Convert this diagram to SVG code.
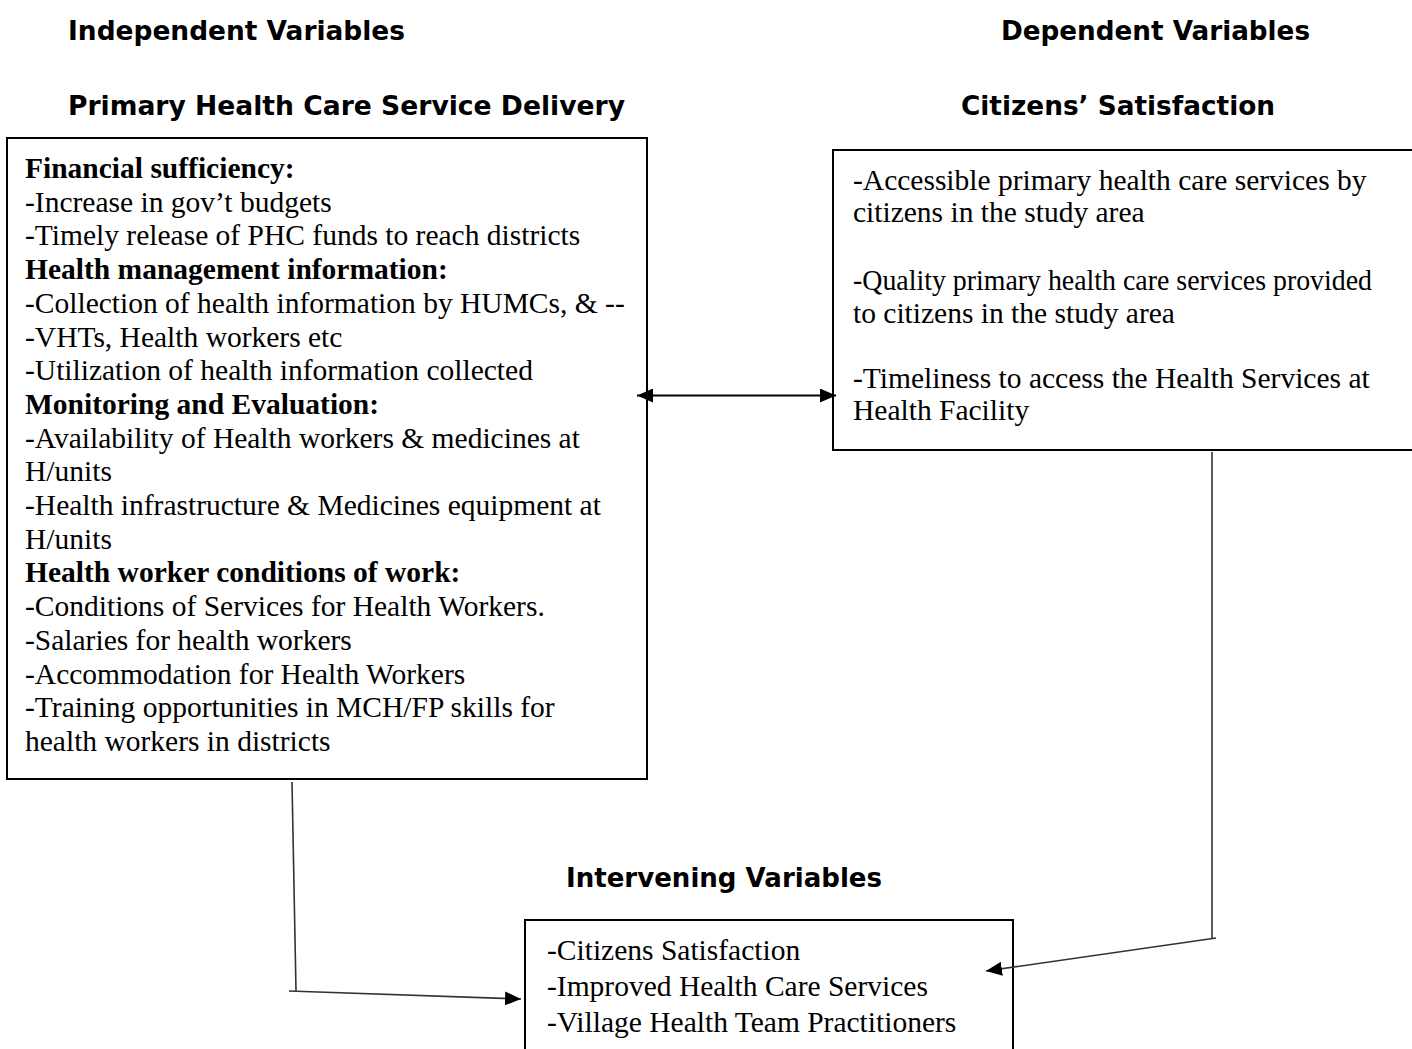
<svg xmlns="http://www.w3.org/2000/svg" width="1412" height="1049" viewBox="0 0 1412 1049">
<style>
.h{font-family:"DejaVu Sans","Liberation Sans",sans-serif;font-weight:bold;font-size:26px;fill:#000}
.t{font-family:"Liberation Serif","Times New Roman",serif;font-size:29.5px;fill:#000}
.b{font-weight:bold}
.box{fill:#fff;stroke:#000;stroke-width:2}
.con{fill:none;stroke:#333;stroke-width:1.6}
</style>
<defs>
<marker id="ah" viewBox="0 0 16 14" refX="16" refY="7" markerWidth="16" markerHeight="14" markerUnits="userSpaceOnUse" orient="auto-start-reverse">
<path d="M0,0 L16,7 L0,14 z" fill="#000"/>
</marker>
</defs>
<rect width="1412" height="1049" fill="#fff"/>
<g id="headings">
<text class="h" x="68" y="40" textLength="337" lengthAdjust="spacingAndGlyphs">Independent Variables</text>
<text class="h" x="68" y="115" textLength="557" lengthAdjust="spacingAndGlyphs">Primary Health Care Service Delivery</text>
<text class="h" x="1001" y="40" textLength="309" lengthAdjust="spacingAndGlyphs">Dependent Variables</text>
<text class="h" x="961" y="115" textLength="314" lengthAdjust="spacingAndGlyphs">Citizens’ Satisfaction</text>
<text class="h" x="566" y="887" textLength="316" lengthAdjust="spacingAndGlyphs">Intervening Variables</text>
</g>
<g id="independent">
<rect class="box" x="7" y="138" width="640" height="641"/>
<text class="t">
<tspan x="25" y="178" class="b">Financial sufficiency:</tspan>
<tspan x="25" y="211.7">-Increase in gov’t budgets</tspan>
<tspan x="25" y="245.4">-Timely release of PHC funds to reach districts</tspan>
<tspan x="25" y="279.1" class="b">Health management information:</tspan>
<tspan x="25" y="312.8">-Collection of health information by HUMCs, &amp; --</tspan>
<tspan x="25" y="346.5">-VHTs, Health workers etc</tspan>
<tspan x="25" y="380.2">-Utilization of health information collected</tspan>
<tspan x="25" y="413.9" class="b">Monitoring and Evaluation:</tspan>
<tspan x="25" y="447.6">-Availability of Health workers &amp; medicines at</tspan>
<tspan x="25" y="481.3">H/units</tspan>
<tspan x="25" y="515">-Health infrastructure &amp; Medicines equipment at</tspan>
<tspan x="25" y="548.7">H/units</tspan>
<tspan x="25" y="582.4" class="b">Health worker conditions of work:</tspan>
<tspan x="25" y="616.1">-Conditions of Services for Health Workers.</tspan>
<tspan x="25" y="649.8">-Salaries for health workers</tspan>
<tspan x="25" y="683.5">-Accommodation for Health Workers</tspan>
<tspan x="25" y="717.2">-Training opportunities in MCH/FP skills for</tspan>
<tspan x="25" y="750.9">health workers in districts</tspan>
</text>
</g>
<g id="dependent">
<rect class="box" x="833" y="150" width="590" height="300"/>
<text class="t">
<tspan x="853" y="190">-Accessible primary health care services by</tspan>
<tspan x="853" y="222">citizens in the study area</tspan>
<tspan x="853" y="290" textLength="519" lengthAdjust="spacingAndGlyphs">-Quality primary health care services provided</tspan>
<tspan x="853" y="323">to citizens in the study area</tspan>
<tspan x="853" y="388">-Timeliness to access the Health Services at</tspan>
<tspan x="853" y="420">Health Facility</tspan>
</text>
</g>
<g id="intervening">
<rect class="box" x="525" y="920" width="488" height="140"/>
<text class="t">
<tspan x="547" y="960">-Citizens Satisfaction</tspan>
<tspan x="547" y="996">-Improved Health Care Services</tspan>
<tspan x="547" y="1032">-Village Health Team Practitioners</tspan>
</text>
</g>
<g id="connectors">
<line x1="637" y1="395.5" x2="836" y2="395.5" stroke="#000" stroke-width="2" marker-start="url(#ah)" marker-end="url(#ah)"/>
<polyline class="con" points="292,782 296,991"/>
<line class="con" x1="289" y1="991" x2="521" y2="999" stroke="#000" marker-end="url(#ah)"/>
<polyline class="con" points="1212,452 1212,938"/>
<line class="con" x1="1216" y1="938" x2="986" y2="971" stroke="#000" marker-end="url(#ah)"/>
</g>
</svg>
